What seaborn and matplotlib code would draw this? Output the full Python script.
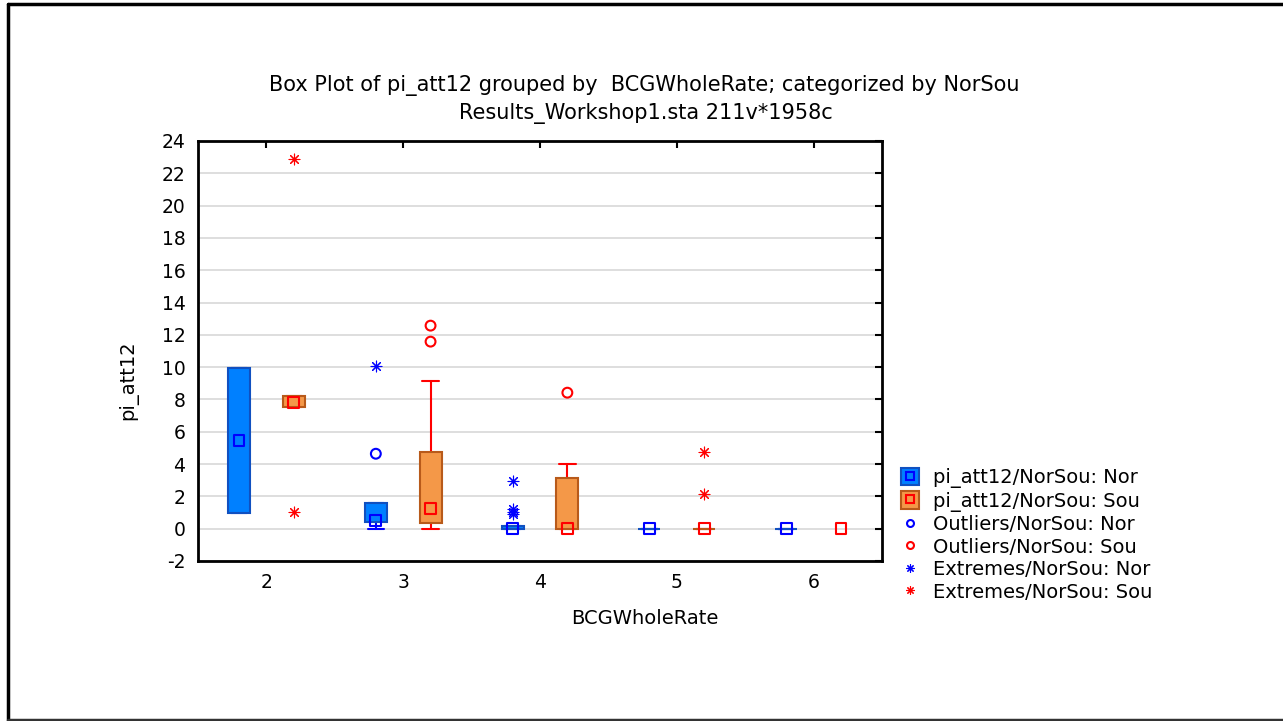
import matplotlib.pyplot as plt
import numpy as np
import seaborn as sns
from matplotlib.lines import Line2D
from matplotlib.patches import Patch

# box statistics per BCGWholeRate category
categories = [2, 3, 4, 5, 6]

nor_q1 = [1.0, 0.43, 0.0, 0.0, 0.0]
nor_med = [5.45, 0.5, 0.0, 0.0, 0.0]
nor_q3 = [9.93, 1.6, 0.15, 0.0, 0.0]
nor_lo = [1.0, 0.0, 0.0, 0.0, 0.0]
nor_hi = [9.93, 1.6, 0.15, 0.0, 0.0]

sou_q1 = [7.51, 0.37, 0.0, 0.0, np.nan]
sou_med = [7.8, 1.26, 0.0, 0.0, 0.0]
sou_q3 = [8.23, 4.77, 3.11, 0.0, np.nan]
sou_lo = [7.51, 0.0, 0.0, 0.0, np.nan]
sou_hi = [8.23, 9.16, 3.98, 0.0, np.nan]

nor_out_cat = [3]
nor_out_val = [4.64]
sou_out_cat = [3, 3, 4]
sou_out_val = [11.58, 12.57, 8.42]

nor_ext_cat = [3, 4, 4, 4, 4]
nor_ext_val = [10.09, 2.95, 1.22, 1.05, 0.9]
sou_ext_cat = [2, 2, 5, 5]
sou_ext_val = [22.9, 1.05, 4.77, 2.15]

NOR_FILL, NOR_EDGE, NOR_LINE = "#0080ff", "#1050c0", "#0000ff"
SOU_FILL, SOU_EDGE, SOU_LINE = "#f49848", "#b85a1a", "#ff0000"
STAR = (8, 2, 0)

sns.set_style("white")
plt.rcParams["font.family"] = ["DejaVu Sans"]
plt.rcParams["text.color"] = "black"
plt.rcParams["axes.unicode_minus"] = False

fig = plt.figure(figsize=(12.83, 7.21), dpi=100)
ax = fig.add_axes([198 / 1283, 1 - 561 / 721, 684 / 1283, 420 / 721])


def draw_group(q1, med, q3, lo, hi, offset, fill, edge, line):
    for c, a, m, b, l, h in zip(categories, q1, med, q3, lo, hi):
        if np.isnan(a):
            continue
        stats = [dict(q1=a, med=m, q3=b, whislo=l, whishi=h, fliers=[])]
        ax.bxp(stats, positions=[c + offset], widths=0.16, capwidths=0.12,
               patch_artist=True, showfliers=False, manage_ticks=False,
               boxprops=dict(facecolor=fill, edgecolor=edge, linewidth=1.5, zorder=3),
               whiskerprops=dict(color=line, linewidth=1.5, zorder=2),
               capprops=dict(color=line, linewidth=1.5, zorder=2),
               medianprops=dict(linewidth=0))
    sns.scatterplot(x=np.array(categories) + offset, y=med, marker="s", s=60,
                    facecolor="none", edgecolor=line, linewidth=1.5, ax=ax, zorder=4)


draw_group(nor_q1, nor_med, nor_q3, nor_lo, nor_hi, -0.2, NOR_FILL, NOR_EDGE, NOR_LINE)
draw_group(sou_q1, sou_med, sou_q3, sou_lo, sou_hi, 0.2, SOU_FILL, SOU_EDGE, SOU_LINE)

# outliers and extremes
sns.scatterplot(x=np.array(nor_out_cat) - 0.2, y=nor_out_val, marker="o", s=50,
                facecolor="none", edgecolor=NOR_LINE, linewidth=1.5, ax=ax, zorder=4)
sns.scatterplot(x=np.array(sou_out_cat) + 0.2, y=sou_out_val, marker="o", s=50,
                facecolor="none", edgecolor=SOU_LINE, linewidth=1.5, ax=ax, zorder=4)
sns.scatterplot(x=np.array(nor_ext_cat) - 0.2, y=nor_ext_val, marker=STAR, s=60,
                color=NOR_LINE, linewidth=0.8, ax=ax, zorder=4)
sns.scatterplot(x=np.array(sou_ext_cat) + 0.2, y=sou_ext_val, marker=STAR, s=60,
                color=SOU_LINE, linewidth=0.8, ax=ax, zorder=4)

ax.set_xlim(1.5, 6.5)
ax.set_ylim(-2, 24)
ax.set_xticks(categories)
ax.set_yticks(range(-2, 25, 2))
ax.yaxis.grid(True, color="#d8d8d8", linewidth=1.2)
ax.set_axisbelow(True)
ax.tick_params(direction="in", top=True, right=True, length=5, width=1.5,
               labelsize=13.5, colors="black", pad=9)
for s in ax.spines.values():
    s.set_color("black")
    s.set_linewidth(2)
ax.set_xlabel("")
ax.set_ylabel("")

fig.text(644 / 1283, 1 - 86 / 721, "Box Plot of pi_att12 grouped by  BCGWholeRate; categorized by NorSou",
         ha="center", va="center", fontsize=15)
fig.text(646 / 1283, 1 - 113 / 721, "Results_Workshop1.sta 211v*1958c",
         ha="center", va="center", fontsize=15)
fig.text(645 / 1283, 1 - 618 / 721, "BCGWholeRate", ha="center", va="center", fontsize=14)
fig.text(128 / 1283, 1 - 380 / 721, "pi_att12", ha="center", va="center",
         rotation=90, fontsize=14)

handles = [
    (Patch(facecolor=NOR_FILL, edgecolor=NOR_EDGE, linewidth=1.5),
     Line2D([], [], marker="s", ls="none", mfc="none", mec=NOR_LINE, ms=6, mew=1.5)),
    (Patch(facecolor=SOU_FILL, edgecolor=SOU_EDGE, linewidth=1.5),
     Line2D([], [], marker="s", ls="none", mfc="none", mec=SOU_LINE, ms=6, mew=1.5)),
    Line2D([], [], marker="o", ls="none", mfc="none", mec=NOR_LINE, ms=5, mew=1.5),
    Line2D([], [], marker="o", ls="none", mfc="none", mec=SOU_LINE, ms=5, mew=1.5),
    Line2D([], [], marker=STAR, ls="none", color=NOR_LINE, ms=6, mew=0.8),
    Line2D([], [], marker=STAR, ls="none", color=SOU_LINE, ms=6, mew=0.8),
]
labels = ["pi_att12/NorSou: Nor", "pi_att12/NorSou: Sou",
          "Outliers/NorSou: Nor", "Outliers/NorSou: Sou",
          "Extremes/NorSou: Nor", "Extremes/NorSou: Sou"]
fig.legend(handles, labels, loc="upper left", bbox_to_anchor=(901 / 1283, 1 - 468 / 721),
           frameon=False, fontsize=14, handlelength=0.9, handleheight=1.0,
           handletextpad=0.75, labelspacing=0.16, borderaxespad=0, borderpad=0)

# outer frame of the exported graph
fig.add_artist(Line2D([7.5 / 1283, 7.5 / 1283], [0.002, 1 - 3.5 / 721], color="black", lw=2.5))
fig.add_artist(Line2D([7.5 / 1283, 1.0], [1 - 3.5 / 721, 1 - 3.5 / 721], color="black", lw=2.5))
fig.add_artist(Line2D([7.5 / 1283, 1.0], [0.002, 0.002], color="#333333", lw=2.5))

fig.savefig("out.png", dpi=100)
